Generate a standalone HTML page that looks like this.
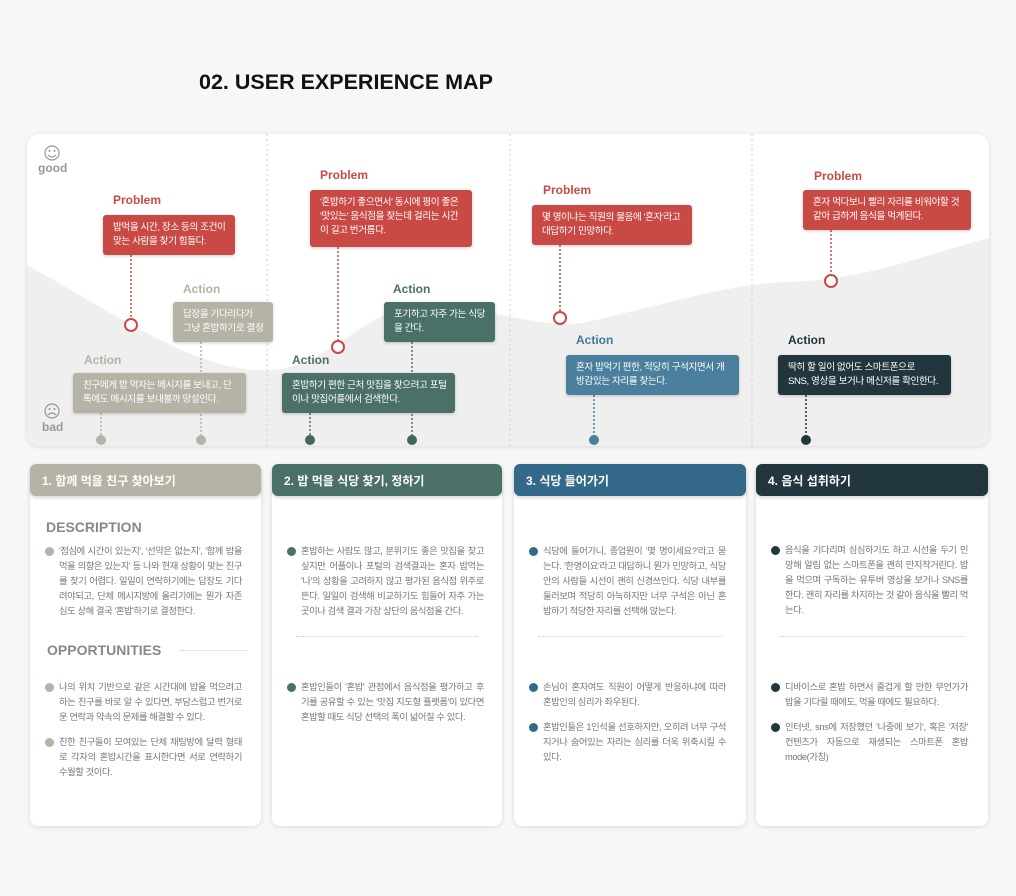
<!DOCTYPE html>
<html><head><meta charset="utf-8"><style>
*{margin:0;padding:0;box-sizing:border-box}
body{width:1016px;height:896px;background:#f7f7f7;position:relative;overflow:hidden;font-family:"Liberation Sans","Noto Sans CJK KR",sans-serif}
.a{position:absolute}
.t{font-weight:bold;font-size:12px}
.bx{position:absolute;color:#fff;font-size:9.6px;line-height:14px;padding:6px 10px;border-radius:3px;box-shadow:0 1px 3px rgba(0,0,0,.2);letter-spacing:-.4px;white-space:nowrap;overflow:hidden}
.card{position:absolute;top:464px;height:362px;background:#fff;border-radius:8px;box-shadow:0 1px 5px rgba(0,0,0,.12)}
.hd{position:absolute;left:0;right:0;top:0;height:32px;border-radius:6px;color:#fff;font-size:12px;font-weight:bold;padding:8px 12px;box-shadow:0 2px 3px rgba(0,0,0,.15)}
.p{position:absolute;left:29px;width:183px;font-size:9.3px;line-height:15px;color:#777;letter-spacing:-.4px;text-align:justify}
.p:before{content:"";position:absolute;left:-14px;top:3px;width:9px;height:9px;border-radius:50%;background:var(--c)}
.sep{position:absolute;left:24px;right:24px;top:172px;border-top:1px dotted #ccc}
</style></head><body>
<div class="a" style="left:199px;top:70px;font-size:21.5px;font-weight:bold;color:#111">02. USER EXPERIENCE MAP</div>
<div class="a" style="left:27px;top:134px;width:962px;height:312px;background:#fff;border-radius:12px;box-shadow:0 1px 5px rgba(0,0,0,.12);overflow:hidden">
<svg width="962" height="312" style="position:absolute;left:0;top:0">
<path d="M0,131 C90,180 170,240 243,236 C310,232 340,165 410,172 C480,178 520,196 560,188 C640,170 700,150 760,148 C840,146 900,120 962,104 L962,312 L0,312 Z" fill="#eeefee"/>
<g stroke="#ccc" stroke-dasharray="2,3"><line x1="240" y1="0" x2="240" y2="312"/><line x1="483" y1="0" x2="483" y2="312"/><line x1="725" y1="0" x2="725" y2="312"/></g>
<g stroke-width="1.5" stroke-dasharray="2,2" fill="none">
<line x1="104" y1="121" x2="104" y2="185" stroke="#c94a45"/>
<line x1="311" y1="113" x2="311" y2="207" stroke="#c94a45"/>
<line x1="533" y1="111" x2="533" y2="178" stroke="#c94a45"/>
<line x1="804" y1="96" x2="804" y2="141" stroke="#c94a45"/>
<line x1="74" y1="279" x2="74" y2="306" stroke="#b7b2a6"/>
<line x1="174" y1="208" x2="174" y2="306" stroke="#b7b2a6"/>
<line x1="283" y1="279" x2="283" y2="306" stroke="#4a7068"/>
<line x1="385" y1="208" x2="385" y2="306" stroke="#4a7068"/>
<line x1="567" y1="261" x2="567" y2="306" stroke="#3f7a99"/>
<line x1="779" y1="261" x2="779" y2="306" stroke="#22363f"/>
</g>
<g fill="#fff" stroke="#c94a45" stroke-width="2">
<circle cx="104" cy="191" r="6"/><circle cx="311" cy="213" r="6"/><circle cx="533" cy="184" r="6"/><circle cx="804" cy="147" r="6"/></g>
<circle cx="74" cy="306" r="5" fill="#b7b2a6"/><circle cx="174" cy="306" r="5" fill="#b7b2a6"/>
<circle cx="283" cy="306" r="5" fill="#3f6860"/><circle cx="385" cy="306" r="5" fill="#3f6860"/>
<circle cx="567" cy="306" r="5" fill="#4a7f9e"/><circle cx="779" cy="306" r="5" fill="#22363f"/>
<g fill="none" stroke="#999" stroke-width="1.2"><circle cx="25" cy="19" r="7"/><circle cx="25" cy="277" r="7"/><path d="M21,21 q4,4 8,0"/><path d="M21,281 q4,-4 8,0"/></g>
<g fill="#999"><circle cx="22.5" cy="17" r="1"/><circle cx="27.5" cy="17" r="1"/><circle cx="22.5" cy="275" r="1"/><circle cx="27.5" cy="275" r="1"/></g>
</svg>
<div class="a" style="left:11px;top:27px;font-size:12px;font-weight:bold;color:#999">good</div>
<div class="a" style="left:15px;top:286px;font-size:12px;font-weight:bold;color:#999">bad</div>
</div>
<div class="a t" style="left:113px;top:193px;color:#c94a45">Problem</div>
<div class="bx" style="left:103px;top:215px;width:132px;height:40px;background:#c94a45">밥먹을 시간, 장소 등의 조건이<br>맞는 사람을 찾기 힘들다.</div>
<div class="a t" style="left:183px;top:282px;color:#b7b2a6">Action</div>
<div class="bx" style="left:173px;top:302px;width:100px;height:40px;background:#b7b2a6">답장을 기다리다가<br>그냥 혼밥하기로 결정</div>
<div class="a t" style="left:84px;top:353px;color:#b7b2a6">Action</div>
<div class="bx" style="left:73px;top:373px;width:173px;height:40px;background:#b7b2a6">친구에게 밥 먹자는 메시지를 보내고, 단<br>톡에도 메시지를 보내볼까 망설인다.</div>
<div class="a t" style="left:320px;top:168px;color:#c94a45">Problem</div>
<div class="bx" style="left:310px;top:190px;width:162px;height:57px;background:#c94a45">'혼밥하기 좋으면서' 동시에 평이 좋은<br>'맛있는' 음식점을 찾는데 걸리는 시간<br>이 길고 번거롭다.</div>
<div class="a t" style="left:393px;top:282px;color:#4a7068">Action</div>
<div class="bx" style="left:384px;top:302px;width:111px;height:40px;background:#4a7068">포기하고 자주 가는 식당<br>을 간다.</div>
<div class="a t" style="left:292px;top:353px;color:#4a7068">Action</div>
<div class="bx" style="left:282px;top:373px;width:173px;height:40px;background:#4a7068">혼밥하기 편한 근처 맛집을 찾으려고 포털<br>이나 맛집어플에서 검색한다.</div>
<div class="a t" style="left:543px;top:183px;color:#c94a45">Problem</div>
<div class="bx" style="left:532px;top:205px;width:160px;height:40px;background:#c94a45">몇 명이냐는 직원의 물음에 '혼자'라고<br>대답하기 민망하다.</div>
<div class="a t" style="left:576px;top:333px;color:#3f7a99">Action</div>
<div class="bx" style="left:566px;top:355px;width:173px;height:40px;background:#4a7f9e">혼자 밥먹기 편한, 적당히 구석지면서 개<br>방감있는 자리를 찾는다.</div>
<div class="a t" style="left:814px;top:169px;color:#c94a45">Problem</div>
<div class="bx" style="left:803px;top:190px;width:168px;height:40px;background:#c94a45">혼자 먹다보니 빨리 자리를 비워야할 것<br>같아 급하게 음식을 먹게된다.</div>
<div class="a t" style="left:788px;top:333px;color:#22363f">Action</div>
<div class="bx" style="left:778px;top:355px;width:173px;height:40px;background:#22363f">딱히 할 일이 없어도 스마트폰으로<br>SNS, 영상을 보거나 메신저를 확인한다.</div>

<div class="card" style="left:30px;width:231px;--c:#b7b2a6">
<div class="hd" style="background:#b7b2a6">1. 함께 먹을 친구 찾아보기</div>
<div class="a" style="left:16px;top:55px;font-size:14px;font-weight:bold;color:#888">DESCRIPTION</div>
<div class="p" style="top:80px">'점심에 시간이 있는지', '선약은 없는지', '함께 밥을 먹을 의향은 있는지' 등 나와 현재 상황이 맞는 친구를 찾기 어렵다. 일일이 연락하기에는 답장도 기다려야되고, 단체 메시지방에 올리기에는 뭔가 자존심도 상해 결국 '혼밥'하기로 결정한다.</div>
<div class="a" style="left:17px;top:178px;font-size:14px;font-weight:bold;color:#888">OPPORTUNITIES</div>
<div class="a" style="left:150px;top:186px;width:68px;border-top:1px dotted #ccc"></div>
<div class="p" style="top:216px">나의 위치 기반으로 같은 시간대에 밥을 먹으려고 하는 친구를 바로 알 수 있다면, 부담스럽고 번거로운 연락과 약속의 문제를 해결할 수 있다.</div>
<div class="p" style="top:271px">친한 친구들이 모여있는 단체 채팅방에 달력 형태로 각자의 혼밥시간을 표시한다면 서로 연락하기 수월할 것이다.</div>
</div>
<div class="card" style="left:272px;width:230px;--c:#4a7068">
<div class="hd" style="background:#4a7068">2. 밥 먹을 식당 찾기, 정하기</div>
<div class="p" style="top:80px">혼밥하는 사람도 많고, 분위기도 좋은 맛집을 찾고 싶지만 어플이나 포털의 검색결과는 혼자 밥먹는 '나'의 상황을 고려하지 않고 평가된 음식점 위주로 뜬다. 일일이 검색해 비교하기도 힘들어 자주 가는 곳이나 검색 결과 가장 상단의 음식점을 간다.</div>
<div class="sep"></div>
<div class="p" style="top:216px">혼밥인들이 '혼밥' 관점에서 음식점을 평가하고 후기를 공유할 수 있는 '맛집 지도형 플랫폼'이 있다면 혼밥할 때도 식당 선택의 폭이 넓어질 수 있다.</div>
</div>
<div class="card" style="left:514px;width:232px;--c:#33698a">
<div class="hd" style="background:#33698a">3. 식당 들어가기</div>
<div class="p" style="top:80px">식당에 들어가니, 종업원이 '몇 명이세요?'라고 묻는다. '한명이요'라고 대답하니 뭔가 민망하고, 식당 안의 사람들 시선이 괜히 신경쓰인다. 식당 내부를 둘러보며 적당히 아늑하지만 너무 구석은 아닌 혼밥하기 적당한 자리를 선택해 앉는다.</div>
<div class="sep"></div>
<div class="p" style="top:216px">손님이 혼자여도 직원이 어떻게 반응하냐에 따라 혼밥인의 심리가 좌우된다.</div>
<div class="p" style="top:256px">혼밥인들은 1인석을 선호하지만, 오히려 너무 구석지거나 숨어있는 자리는 심리를 더욱 위축시킬 수 있다.</div>
</div>
<div class="card" style="left:756px;width:232px;--c:#22363f">
<div class="hd" style="background:#22363f">4. 음식 섭취하기</div>
<div class="p" style="top:79px">음식을 기다리며 심심하기도 하고 시선을 두기 민망해 알림 없는 스마트폰을 괜히 만지작거린다. 밥을 먹으며 구독하는 유투버 영상을 보거나 SNS를 한다. 괜히 자리를 차지하는 것 같아 음식을 빨리 먹는다.</div>
<div class="sep"></div>
<div class="p" style="top:216px">디바이스로 혼밥 하면서 즐겁게 할 만한 무언가가 밥을 기다릴 때에도, 먹을 때에도 필요하다.</div>
<div class="p" style="top:256px">인터넷, sns에 저장했던 '나중에 보기', 혹은 '저장' 컨텐츠가 자동으로 재생되는 스마트폰 혼밥 mode(가칭)</div>
</div>
</body></html>
